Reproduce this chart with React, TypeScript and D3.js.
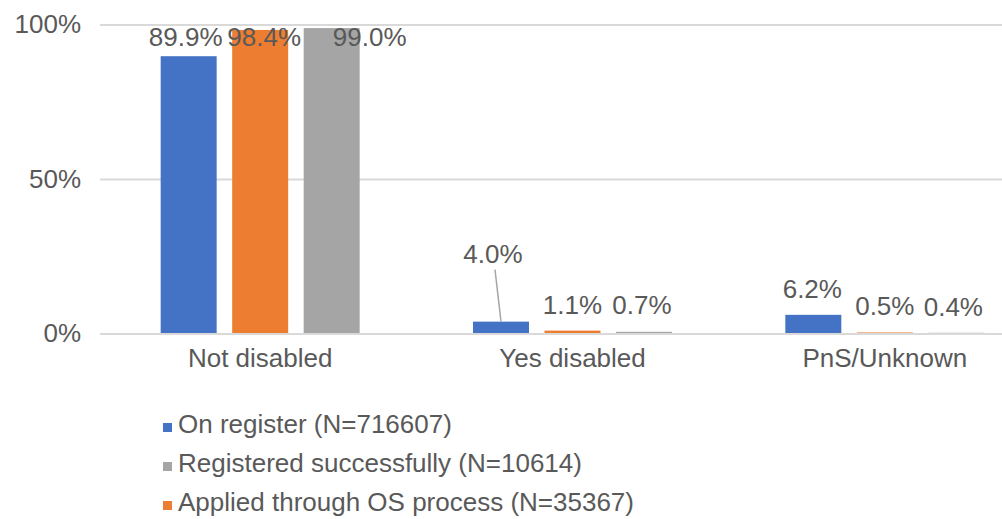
import React from "react";
import * as d3 from "d3";

// Disability status by registration stage (share of each group, %)
const categories = ["Not disabled", "Yes disabled", "PnS/Unknown"];
const seriesNames = [
  "On register (N=716607)",
  "Applied through OS process (N=35367)",
  "Registered successfully (N=10614)",
];
const onRegister = [89.9, 4.0, 6.2];
const appliedOS = [98.4, 1.1, 0.5];
const registeredOk = [99.0, 0.7, 0.4];
const yTicks = [0, 50, 100];
// legend lists series in this order
const legendOrder = [0, 2, 1];

const seriesValues = [onRegister, appliedOS, registeredOk];
const colors = ["#4472C4", "#ED7D31", "#A5A5A5"];

// per-label nudges [category][series] -> [dx, dy] applied to label placement
const labelNudge: Record<string, [number, number]> = {
  "0-0": [-3, 0],
  "0-1": [4, 0],
  "0-2": [38, 0],
  "1-0": [-8, -42],
  "1-2": [-2, -1],
  "2-0": [-1, 0],
  "2-2": [-3, 0],
};

const W = 1002;
const H = 519;
const FONT = "'Liberation Sans', Arial, Helvetica, sans-serif";
const TEXT = "#595959";

export default function App() {
  const y = d3.scaleLinear().domain([0, 100]).range([334, 25]);
  const x0 = d3.scaleBand<string>().domain(categories).range([104, 1041]);
  const x1 = d3
    .scaleBand<number>()
    .domain([0, 1, 2])
    .range([-99.5, 99.5])
    .paddingInner(0.217);
  const fmt = (v: number) => d3.format(".1f")(v) + "%";

  const bars: JSX.Element[] = [];
  const labels: JSX.Element[] = [];
  categories.forEach((cat, ci) => {
    const cx = x0(cat)! + x0.bandwidth() / 2;
    seriesValues.forEach((vals, si) => {
      const v = vals[ci];
      const bx = cx + x1(si)!;
      const bw = x1.bandwidth();
      const top = y(v);
      bars.push(
        <rect
          key={`b-${ci}-${si}`}
          x={bx}
          y={top}
          width={bw}
          height={y(0) - top}
          fill={colors[si]}
        />
      );
      const [dx, dy] = labelNudge[`${ci}-${si}`] || [0, 0];
      const lx = bx + bw / 2 + dx;
      const ly = Math.max(top - 17, 46) + dy;
      labels.push(
        <text
          key={`l-${ci}-${si}`}
          x={lx}
          y={ly}
          textAnchor="middle"
          fontSize={26}
          fill={TEXT}
        >
          {fmt(v)}
        </text>
      );
      if (dy < -20) {
        labels.push(
          <line
            key={`ll-${ci}-${si}`}
            x1={lx + 2}
            y1={ly + 7}
            x2={bx + bw / 2}
            y2={top}
            stroke="#A6A6A6"
            strokeWidth={1.5}
          />
        );
      }
    });
  });

  return (
    <svg
      width={W}
      height={H}
      style={{ position: "absolute", left: 0, top: 0, background: "#fff" }}
      fontFamily={FONT}
    >
      {yTicks.map((t) => (
        <g key={t}>
          {t !== 0 && (
            <line x1={100} x2={W} y1={y(t)} y2={y(t)} stroke="#D9D9D9" strokeWidth={2} />
          )}
          <text x={81} y={y(t) + 8} textAnchor="end" fontSize={26} fill={TEXT}>
            {t}%
          </text>
        </g>
      ))}
      {bars}
      {/* category axis line, drawn over the bar bases */}
      <line x1={100} x2={W} y1={y(0)} y2={y(0)} stroke="#D9D9D9" strokeWidth={2} />
      {labels}
      {categories.map((c) => (
        <text
          key={c}
          x={x0(c)! + x0.bandwidth() / 2}
          y={367}
          textAnchor="middle"
          fontSize={26}
          fill={TEXT}
        >
          {c}
        </text>
      ))}
      {legendOrder.map((si, i) => {
        const base = 433 + i * 39;
        return (
          <g key={si}>
            <rect x={163} y={base - 10} width={9} height={9} fill={colors[si]} />
            <text x={178} y={base} fontSize={26} fill={TEXT}>
              {seriesNames[si]}
            </text>
          </g>
        );
      })}
    </svg>
  );
}
